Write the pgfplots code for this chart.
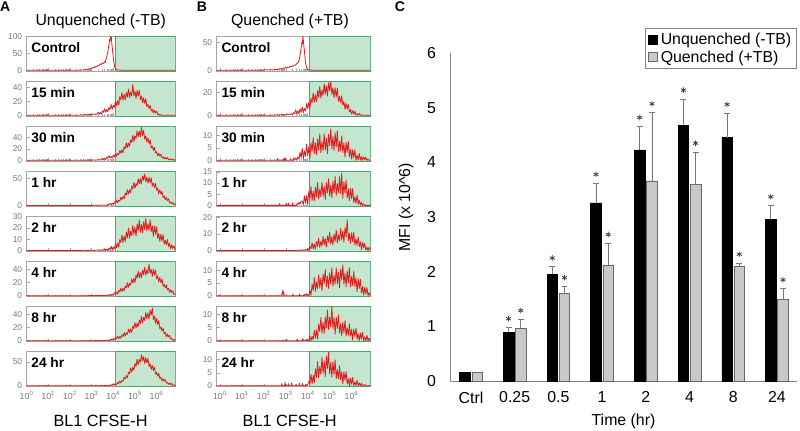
\documentclass[border=0pt]{standalone}
\usepackage{pgfplots}
\pgfplotsset{compat=1.18}
\usepackage{fontspec}
\setmainfont{Liberation Sans}
\definecolor{histred}{RGB}{225,28,28}
\definecolor{gatefill}{RGB}{196,229,206}
\definecolor{gateline}{RGB}{64,170,104}
\definecolor{framegray}{RGB}{165,165,165}
\definecolor{tickgray}{RGB}{120,120,120}
\definecolor{cgray}{RGB}{130,130,130}
\definecolor{barfill}{RGB}{200,200,200}
\definecolor{barline}{RGB}{105,105,105}
\definecolor{errgray}{RGB}{120,120,120}
\tikzset{histlabel/.style={anchor=west, inner sep=0pt, font=\bfseries\fontsize{10.3}{12}\selectfont}}
\pgfplotsset{
  /pgf/number format/assume math mode=true,
  histbase/.style={
    scale only axis, anchor=south west, height=26.25pt,
    axis line style={framegray, line width=0.5pt},
    xtick={0,1,2,3,4,5,6},
    minor xtick={0.301,0.477,0.602,0.699,0.778,0.845,0.903,0.954,1.301,1.477,1.602,1.699,1.778,1.845,1.903,1.954,2.301,2.477,2.602,2.699,2.778,2.845,2.903,2.954,3.301,3.477,3.602,3.699,3.778,3.845,3.903,3.954,4.301,4.477,4.602,4.699,4.778,4.845,4.903,4.954,5.301,5.477,5.602,5.699,5.778,5.845,5.903,5.954,6.301,6.477,6.602,6.699,6.778,6.845},
    xticklabels={},
    tick style={framegray, line width=0.4pt}, major tick length=2.2pt, minor tick length=1.3pt,
    tick align=inside, xtick pos=bottom, ytick pos=left,
    yticklabel style={font=\fontsize{6.3}{7}\selectfont, text=tickgray, inner sep=1pt, xshift=-2.2pt},
    xticklabel style={font=\fontsize{6.6}{7}\selectfont, text=tickgray, inner sep=1pt, yshift=-2.5pt},
    axis on top=false,
  },
  histA/.style={histbase, width=111.75pt, xmin=0, xmax=6.88},
  histB/.style={histbase, width=115.5pt, xmin=-0.15, xmax=6.87},
  histcurve/.style={color=histred, line width=0.6pt, line join=round, mark=none},
  bottomrow/.style={xticklabels={10\textsuperscript{0},10\textsuperscript{1},10\textsuperscript{2},10\textsuperscript{3},10\textsuperscript{4},10\textsuperscript{5},10\textsuperscript{6}}},
}
\newcommand{\gate}{\draw[gateline, fill=gatefill, line width=0.7pt] ({axis cs:\gatex,0}|-{rel axis cs:0,0}) rectangle ({rel axis cs:1,1});}
\newcommand{\hist}[7]{%
\begin{axis}[#1, ymin=#2, ymax=#3, ytick={#4}, #7]
\gate
\addplot[histcurve] coordinates {#6};
\node[histlabel] at (rel axis cs:0.03,0.68) {#5};
\end{axis}}
\begin{document}
\begin{tikzpicture}
\useasboundingbox (0,0) rectangle (600pt,322.5pt);
% ---------------- Panel A ----------------
\def\gatex{4.08}
\hist{histA, at={(20pt,269.25pt)}}{-2.5}{102}{0,50,100}{Control}{(0,0)(2.4,0)(2.5,0.5)(2.6,0.3)(2.7,1.5)(2.8,2.5)(2.9,4.5)(2.95,3.8)(3.0,7)(3.05,6)(3.1,9)(3.15,8)(3.2,12)(3.25,10.5)(3.3,15)(3.35,14)(3.4,19)(3.45,17)(3.5,22)(3.55,20)(3.6,25)(3.63,23)(3.66,32)(3.69,38)(3.72,48)(3.75,55)(3.78,70)(3.81,78)(3.83,92)(3.85,86)(3.87,100)(3.89,94)(3.91,98)(3.93,80)(3.95,70)(3.97,55)(4.0,38)(4.03,22)(4.06,12)(4.09,6)(4.12,3)(4.16,1.5)(4.2,0.8)(4.3,0.3)(4.4,0)(6.88,0)}{}
\hist{histA, at={(20pt,235.4pt)}}{-1.2}{48.5}{0,20,40}{15 min}{(0,0)(2.4,0)(2.5,0.8)(2.6,0)(2.7,1.2)(2.8,0.3)(2.9,1.5)(3.0,0.5)(3.1,2)(3.2,0.8)(3.25,2.5)(3.30,4.4)(3.35,1.6)(3.40,4.0)(3.45,1.4)(3.50,6.3)(3.55,4.2)(3.60,9.2)(3.65,4.2)(3.70,8.3)(3.75,4.9)(3.80,11.5)(3.85,8.1)(3.90,15.4)(3.95,8.6)(4.00,14.3)(4.05,11.3)(4.10,19.6)(4.15,13.6)(4.20,20.6)(4.25,14.6)(4.30,26.5)(4.35,21.8)(4.40,32.2)(4.45,21.7)(4.50,29.5)(4.55,21.8)(4.60,32.4)(4.65,25.8)(4.70,37.3)(4.75,25.2)(4.80,33.0)(4.85,27.5)(4.90,44)(4.95,27.5)(5.00,34.4)(5.05,23.9)(5.10,35.3)(5.15,27.1)(5.20,35.6)(5.25,22.2)(5.30,27.4)(5.35,17.8)(5.40,24.9)(5.45,16.9)(5.50,23.6)(5.55,12.2)(5.60,15.4)(5.65,9.5)(5.70,13.8)(5.75,6.4)(5.80,8.6)(5.85,3.1)(5.90,7.2)(5.95,3.3)(6.00,5.5)(6.05,1.0)(6.10,2.1)(6.15,0)(6.20,1.1)(6.25,0)(6.88,0)}{}
\hist{histA, at={(20pt,201.6pt)}}{-1.5}{59}{0,20,40}{30 min}{(0,0)(2.8,0)(2.9,0.5)(3.0,0)(3.1,0.8)(3.2,0.2)(3.3,1.2)(3.4,0.6)(3.45,1.8)(3.50,3.3)(3.55,1.2)(3.60,3.4)(3.65,1.2)(3.70,5.8)(3.75,3.8)(3.80,8.0)(3.85,3.7)(3.90,7.1)(3.95,4.1)(4.00,9.1)(4.05,6.2)(4.10,11.9)(4.15,6.9)(4.20,11.9)(4.25,9.7)(4.30,17.0)(4.35,12.1)(4.40,18.3)(4.45,13.0)(4.50,23.6)(4.55,19.9)(4.60,30.5)(4.65,21.9)(4.70,29.8)(4.75,23.9)(4.80,35.7)(4.85,30.5)(4.90,43.3)(4.95,32.6)(5.00,42.1)(5.05,37.7)(5.10,51.0)(5.15,40.9)(5.20,50.8)(5.25,40.2)(5.30,57)(5.35,42.8)(5.40,51.6)(5.45,36.5)(5.50,42.3)(5.55,31.5)(5.60,39.1)(5.65,28.4)(5.70,35.5)(5.75,21.5)(5.80,24.6)(5.85,17.1)(5.90,22.3)(5.95,12.7)(6.00,15.0)(6.05,7.6)(6.10,12.4)(6.15,7.1)(6.20,10.5)(6.25,4.1)(6.30,6.0)(6.35,2.3)(6.40,5.3)(6.45,2.1)(6.50,4.8)(6.55,1.0)(6.60,2.5)(6.65,0.9)(6.70,2.6)(6.75,0.3)(6.80,1.3)(6.85,0)(6.88,0)}{}
\hist{histA, at={(20pt,167.8pt)}}{-1.6}{64}{0,50}{1 hr}{(0,0)(3.0,0)(3.2,0.4)(3.3,0)(3.4,0.6)(3.5,0.2)(3.6,0.9)(3.65,0.4)(3.70,0)(3.75,2.3)(3.80,1.3)(3.85,3.9)(3.90,1.3)(3.95,4.1)(4.00,2.0)(4.05,6.3)(4.10,4.1)(4.15,9.7)(4.20,5.2)(4.25,9.9)(4.30,7.9)(4.35,15.3)(4.40,10.7)(4.45,16.8)(4.50,12.2)(4.55,23.1)(4.60,19.5)(4.65,29.5)(4.70,21.3)(4.75,29.4)(4.80,24.0)(4.85,36.3)(4.90,30.8)(4.95,43.1)(5.00,32.1)(5.05,41.3)(5.10,36.6)(5.15,50.0)(5.20,40.4)(5.25,50.3)(5.30,40.2)(5.35,55.2)(5.40,47.0)(5.45,58.7)(5.50,44.3)(5.55,53.1)(5.60,41.9)(5.65,52.6)(5.70,42.3)(5.75,52.0)(5.80,36.3)(5.85,42.1)(5.90,33.3)(5.95,41.2)(6.00,28.3)(6.05,32.7)(6.10,21.6)(6.15,29.4)(6.20,21.1)(6.25,26.3)(6.30,14.7)(6.35,17.9)(6.40,10.5)(6.45,15.1)(6.50,8.8)(6.55,12.5)(6.60,4.7)(6.65,6.6)(6.70,3.2)(6.75,5.4)(6.80,1.5)(6.85,2.4)(6.88,1)}{}
\hist{histA, at={(20pt,133.95pt)}}{-0.75}{30}{0,10,20,30}{2 hr}{(0,0)(2.5,0)(2.7,0.3)(2.8,0)(3.0,0.5)(3.1,0)(3.3,0.6)(3.4,0.1)(3.5,0.8)(3.55,0.2)(3.60,1.6)(3.65,0)(3.70,1.4)(3.75,0)(3.80,2.2)(3.85,0.7)(3.90,3.7)(3.95,0.7)(4.00,3.2)(4.05,1.6)(4.10,5.7)(4.15,2.6)(4.20,6.7)(4.25,2.9)(4.30,9.7)(4.35,6.9)(4.40,13.7)(4.45,7.1)(4.50,12.7)(4.55,8.0)(4.60,16.3)(4.65,11.2)(4.70,19.7)(4.75,10.9)(4.80,17.0)(4.85,13.0)(4.90,22.1)(4.95,14.1)(5.00,20.6)(5.05,12.7)(5.10,23.3)(5.15,17.6)(5.20,26.8)(5.25,16.1)(5.30,22.9)(5.35,15.5)(5.40,25.3)(5.45,18.4)(5.50,28.4)(5.55,17.1)(5.60,23.5)(5.65,17.7)(5.70,27.0)(5.75,16.5)(5.80,21.9)(5.85,12.5)(5.90,21.3)(5.95,14.4)(6.00,21.0)(6.05,10.6)(6.10,14.9)(6.15,8.0)(6.20,14.3)(6.25,8.3)(6.30,14.0)(6.35,5.7)(6.40,9.0)(6.45,5.0)(6.50,9.7)(6.55,3.7)(6.60,6.2)(6.65,1.4)(6.70,5.0)(6.75,1.9)(6.80,4.2)(6.85,0.4)(6.88,0.5)}{}
\hist{histA, at={(20pt,100.1pt)}}{-1.3}{52}{0,20,40}{4 hr}{(0,0)(2.8,0)(3.0,0.3)(3.1,0)(3.3,0.4)(3.4,0)(3.5,0.6)(3.6,0.2)(3.65,0.8)(3.70,0)(3.75,1.3)(3.80,0.3)(3.85,2.2)(3.90,0.4)(3.95,2.4)(4.00,1.3)(4.05,4.6)(4.10,2.1)(4.15,5.4)(4.20,2.6)(4.25,7.9)(4.30,5.6)(4.35,11.4)(4.40,6.5)(4.45,11.1)(4.50,7.7)(4.55,15.0)(4.60,11.8)(4.65,19.8)(4.70,12.8)(4.75,18.9)(4.80,16.0)(4.85,25.6)(4.90,19.2)(4.95,26.6)(5.00,19.9)(5.05,31.7)(5.10,26.7)(5.15,37.1)(5.20,26.9)(5.25,34.9)(5.30,27.6)(5.35,39.0)(5.40,32.0)(5.45,43.2)(5.50,31.2)(5.55,39.1)(5.60,33.4)(5.65,48)(5.70,33.9)(5.75,40.4)(5.80,29.4)(5.85,40.2)(5.90,31.4)(5.95,39.1)(6.00,25.8)(6.05,30.3)(6.10,21.0)(6.15,27.8)(6.20,19.4)(6.25,25.4)(6.30,14.2)(6.35,17.4)(6.40,11.8)(6.45,16.3)(6.50,8.7)(6.55,11.3)(6.60,5.0)(6.65,9.1)(6.70,4.8)(6.75,7.3)(6.80,2.0)(6.85,2.8)(6.88,2)}{}
\hist{histA, at={(20pt,66.3pt)}}{-1.3}{52}{0,20,40}{8 hr}{(0,0)(3.0,0)(3.2,0.4)(3.3,0)(3.45,0.5)(3.55,0)(3.6,0.7)(3.65,0.2)(3.70,1.4)(3.75,0)(3.80,1.1)(3.85,0.3)(3.90,2.7)(3.95,1.0)(4.00,3.2)(4.05,1.0)(4.10,4.8)(4.15,3.2)(4.20,7.2)(4.25,3.3)(4.30,6.5)(4.35,3.8)(4.40,9.0)(4.45,6.3)(4.50,12.4)(4.55,7.1)(4.60,12.1)(4.65,9.9)(4.70,17.4)(4.75,12.1)(4.80,18.0)(4.85,12.6)(4.90,22.3)(4.95,18.5)(5.00,27.6)(5.05,19.3)(5.10,26.8)(5.15,21.1)(5.20,31.7)(5.25,26.1)(5.30,37.3)(5.35,27.1)(5.40,35.4)(5.45,31.0)(5.50,42.9)(5.55,33.6)(5.60,42.5)(5.65,33.0)(5.70,46.4)(5.75,38.9)(5.80,50)(5.85,32.3)(5.90,37.3)(5.95,26.6)(6.00,34.2)(6.05,24.5)(6.10,30.7)(6.15,17.8)(6.20,21.2)(6.25,14.5)(6.30,19.3)(6.35,10.6)(6.40,12.8)(6.45,5.9)(6.50,10.3)(6.55,5.7)(6.60,8.2)(6.65,2.5)(6.70,3.7)(6.75,0.5)(6.80,2.0)(6.85,0.2)(6.88,0)}{}
\hist{histA, at={(20pt,32.5pt)}}{-1.8}{71}{0,50}{24 hr}{(0,0)(3.0,0)(3.2,0.4)(3.3,0)(3.45,0.5)(3.55,0)(3.6,0.7)(3.65,0.2)(3.70,1.3)(3.75,0.2)(3.80,1.3)(3.85,0)(3.90,2.4)(3.95,1.5)(4.00,4.3)(4.05,1.5)(4.10,4.2)(4.15,2.2)(4.20,7.0)(4.25,4.8)(4.30,10.2)(4.35,6.0)(4.40,11.2)(4.45,9.4)(4.50,18.0)(4.55,13.7)(4.60,21.4)(4.65,16.5)(4.70,28.6)(4.75,25.2)(4.80,37.0)(4.85,28.4)(4.90,38.4)(4.95,32.5)(5.00,46.3)(5.05,40.4)(5.10,55.3)(5.15,43.8)(5.20,54.9)(5.25,49.6)(5.30,64.4)(5.35,52.0)(5.40,60.5)(5.45,46.4)(5.50,58.7)(5.55,47.7)(5.60,56.8)(5.65,40.1)(5.70,45.9)(5.75,34.0)(5.80,42.5)(5.85,31.8)(5.90,38.8)(5.95,24.3)(6.00,27.7)(6.05,20.1)(6.10,25.7)(6.15,15.2)(6.20,18.2)(6.25,9.9)(6.30,15.0)(6.35,9.4)(6.40,12.9)(6.45,5.2)(6.50,7.4)(6.55,3.0)(6.60,5.9)(6.65,2.5)(6.70,4.8)(6.75,0.9)(6.80,2.1)(6.85,0.5)(6.88,0.5)}{bottomrow}
% ---------------- Panel B ----------------
\def\gatex{4.09}
\hist{histB, at={(162.5pt,269.25pt)}}{-1.5}{62}{0,50}{Control}{(-0.15,0)(2.0,0)(2.1,0.8)(2.2,0.3)(2.3,1)(2.4,0.5)(2.5,1.5)(2.6,1)(2.7,2.5)(2.75,1.8)(2.8,3.2)(2.85,2.5)(2.9,4)(2.95,3.4)(3.0,5)(3.05,4.2)(3.1,5.8)(3.15,5)(3.2,6.8)(3.25,6)(3.3,8)(3.35,7.2)(3.4,9.5)(3.45,9)(3.5,12)(3.55,13)(3.6,18)(3.63,22)(3.66,30)(3.69,38)(3.72,45)(3.74,52)(3.76,48)(3.78,61)(3.80,55)(3.82,45)(3.85,35)(3.88,22)(3.91,12)(3.94,6)(3.97,3)(4.0,1.5)(4.05,0.8)(4.1,0.3)(4.2,0)(6.87,0)}{}
\hist{histB, at={(162.5pt,235.4pt)}}{-0.75}{30}{0,20}{15 min}{(-0.15,0)(2.5,0)(2.6,0.5)(2.7,0)(2.85,0.8)(2.95,0.2)(3.05,1)(3.15,0.4)(3.25,1.5)(3.3,0.5)(3.35,2.2)(3.40,1.5)(3.45,4.8)(3.50,1.3)(3.55,4.0)(3.60,1.3)(3.65,5.6)(3.70,2.7)(3.75,7.3)(3.80,2.4)(3.85,5.9)(3.90,3.9)(3.95,10.3)(4.00,5.8)(4.05,11.1)(4.10,6.0)(4.15,14.9)(4.20,11.2)(4.25,19.6)(4.30,11.5)(4.35,18.0)(4.40,12.0)(4.45,21.6)(4.50,15.6)(4.55,25.4)(4.60,15.2)(4.65,22.3)(4.70,17.5)(4.75,27.8)(4.80,18.6)(4.85,25.9)(4.90,16.9)(4.95,28.5)(5.00,21.4)(5.05,29.5)(5.10,18.3)(5.15,24.2)(5.20,15.6)(5.25,24.1)(5.30,16.1)(5.35,23.8)(5.40,12.3)(5.45,16.6)(5.50,10.9)(5.55,17.1)(5.60,8.7)(5.65,12.2)(5.70,5.1)(5.75,10.7)(5.80,5.7)(5.85,9.4)(5.90,2.9)(5.95,5.0)(6.00,1.1)(6.05,4.2)(6.10,1.1)(6.15,3.6)(6.20,0.1)(6.25,1.4)(6.30,0.1)(6.35,1.6)(6.40,0)(6.45,0.6)(6.50,0)(6.87,0)}{}
\hist{histB, at={(162.5pt,201.6pt)}}{-0.35}{13.8}{0,5,10}{30 min}{(-0.15,0)(2.6,0)(2.62,0.8)(2.64,0)(2.9,0)(2.92,0.9)(2.94,0)(2.97,1.0)(2.99,0)(3.2,0)(3.22,0.7)(3.24,0)(3.35,0)(3.37,1.1)(3.39,0)(3.45,0.9)(3.5,0.2)(3.55,1.4)(3.6,0.5)(3.65,3.3)(3.70,0.9)(3.75,4.9)(3.80,0.5)(3.85,3.8)(3.90,1.6)(3.95,6.5)(4.00,1.8)(4.05,5.5)(4.10,0.9)(4.15,7.1)(4.20,3.7)(4.25,9.1)(4.30,2.7)(4.35,7.0)(4.40,2.3)(4.45,8.6)(4.50,4.1)(4.55,10.6)(4.60,3.1)(4.65,7.6)(4.70,4.0)(4.75,10.7)(4.80,4.2)(4.85,8.9)(4.90,2.7)(4.95,10.5)(5.00,6.0)(5.05,12.8)(5.10,4.6)(5.15,9.6)(5.20,3.9)(5.25,11.1)(5.30,5.4)(5.35,12.0)(5.40,3.6)(5.45,7.8)(5.50,3.8)(5.55,9.8)(5.60,3.2)(5.65,7.0)(5.70,1.3)(5.75,7.2)(5.80,3.2)(5.85,7.7)(5.90,1.4)(5.95,4.4)(6.00,0.5)(6.05,4.3)(6.10,1.0)(6.15,4.3)(6.20,0)(6.25,2.1)(6.30,0.2)(6.35,2.8)(6.40,0)(6.45,1.5)(6.50,0)(6.55,1.4)(6.60,0.2)(6.65,1.3)(6.70,0)(6.75,0.5)(6.80,0)(6.87,0)}{}
\hist{histB, at={(162.5pt,167.8pt)}}{-0.4}{15.3}{0,5,10,15}{1 hr}{(-0.15,0)(2.7,0)(2.72,0.8)(2.74,0)(3.0,0)(3.02,1.0)(3.04,0)(3.1,0)(3.12,0.9)(3.14,0)(3.3,0)(3.32,1.2)(3.34,0)(3.5,0)(3.52,1.0)(3.55,0.2)(3.6,1.4)(3.65,0.5)(3.7,2.0)(3.75,1.8)(3.80,0.4)(3.85,4.3)(3.90,0.9)(3.95,4.3)(4.00,0.4)(4.05,6.2)(4.10,3.1)(4.15,8.5)(4.20,2.2)(4.25,6.4)(4.30,2.0)(4.35,8.2)(4.40,3.8)(4.45,10.2)(4.50,2.9)(4.55,7.4)(4.60,3.9)(4.65,10.4)(4.70,4.0)(4.75,8.7)(4.80,2.6)(4.85,10.2)(4.90,5.6)(4.95,12.0)(5.00,4.2)(5.05,9.0)(5.10,3.5)(5.15,10.8)(5.20,5.6)(5.25,13.0)(5.30,4.5)(5.35,9.8)(5.40,5.7)(5.45,12.9)(5.50,5.3)(5.55,14.5)(5.60,3.1)(5.65,10.6)(5.70,5.5)(5.75,11.4)(5.80,3.3)(5.85,7.4)(5.90,2.1)(5.95,7.7)(6.00,3.0)(6.05,7.6)(6.10,1.2)(6.15,3.9)(6.20,1.0)(6.25,4.6)(6.30,0.5)(6.35,2.4)(6.40,0)(6.45,1.5)(6.50,0)(6.55,0.6)(6.60,0)(6.87,0)}{}
\hist{histB, at={(162.5pt,133.95pt)}}{-0.5}{20.5}{0,10,20}{2 hr}{(-0.15,0)(3.5,0)(3.55,0.4)(3.6,0)(3.75,0.5)(3.8,0)(3.9,0.6)(3.95,0.2)(4.00,1.2)(4.05,0)(4.10,2.4)(4.15,1.0)(4.20,4.7)(4.25,0.9)(4.30,4.0)(4.35,0.9)(4.40,5.6)(4.45,2.4)(4.50,7.4)(4.55,1.9)(4.60,5.6)(4.65,2.8)(4.70,8.4)(4.75,3.2)(4.80,7.3)(4.85,2.1)(4.90,8.8)(4.95,5.0)(5.00,10.9)(5.05,3.8)(5.10,8.4)(5.15,3.4)(5.20,10.0)(5.25,5.4)(5.30,12.3)(5.35,4.5)(5.40,9.4)(5.45,5.9)(5.50,13.2)(5.55,6.4)(5.60,11.8)(5.65,5.1)(5.70,13.8)(5.75,8.3)(5.80,18.5)(5.85,5.9)(5.90,10.4)(5.95,4.3)(6.00,10.7)(6.05,5.3)(6.10,11.1)(6.15,3.3)(6.20,6.9)(6.25,3.2)(6.30,8.1)(6.35,2.4)(6.40,5.3)(6.45,0.6)(6.50,4.8)(6.55,1.6)(6.60,4.4)(6.65,0.3)(6.70,2.1)(6.75,0)(6.80,2.0)(6.85,0.3)(6.87,0.3)}{}
\hist{histB, at={(162.5pt,100.1pt)}}{-0.35}{13.6}{0,5,10}{4 hr}{(-0.15,0)(2.8,0)(2.84,0.8)(2.86,2.2)(2.88,0.5)(2.9,1.5)(2.93,0)(3.3,0)(3.32,0.6)(3.35,0)(3.6,0)(3.62,0.7)(3.65,0)(3.8,0)(3.85,0.6)(3.9,0)(3.95,0.8)(4.0,0.2)(4.05,0)(4.10,2.2)(4.15,0.2)(4.20,4.6)(4.25,2.0)(4.30,7.2)(4.35,1.7)(4.40,5.5)(4.45,2.7)(4.50,8.2)(4.55,3.1)(4.60,7.1)(4.65,2.0)(4.70,8.6)(4.75,4.8)(4.80,10.4)(4.85,3.5)(4.90,7.7)(4.95,2.9)(5.00,9.1)(5.05,4.6)(5.10,11.0)(5.15,3.7)(5.20,8.1)(5.25,4.6)(5.30,11.1)(5.35,4.7)(5.40,9.2)(5.45,3.2)(5.50,10.6)(5.55,6.2)(5.60,12.3)(5.65,4.6)(5.70,9.0)(5.75,3.6)(5.80,9.9)(5.85,5.0)(5.90,11.1)(5.95,3.5)(6.00,7.6)(6.05,4.0)(6.10,9.8)(6.15,3.6)(6.20,7.1)(6.25,1.5)(6.30,6.8)(6.35,2.9)(6.40,6.5)(6.45,1.1)(6.50,3.6)(6.55,0.2)(6.60,3.4)(6.65,0.7)(6.70,3.2)(6.75,0)(6.80,1.2)(6.85,0)(6.87,0)}{}
\hist{histB, at={(162.5pt,66.3pt)}}{-0.33}{13.1}{0,5,10}{8 hr}{(-0.15,0)(3.0,0)(3.02,0.5)(3.05,0)(3.5,0)(3.52,0.6)(3.55,0)(3.75,0)(3.78,0.9)(3.8,0)(3.9,0)(3.93,0.5)(3.96,0)(4.0,0.4)(4.05,0)(4.10,1.9)(4.15,0)(4.20,1.7)(4.25,0.4)(4.30,4.0)(4.35,1.0)(4.40,4.2)(4.45,0.6)(4.50,6.3)(4.55,3.5)(4.60,8.9)(4.65,2.9)(4.70,7.1)(4.75,2.8)(4.80,9.2)(4.85,4.9)(4.90,11.8)(4.95,4.3)(5.00,9.0)(5.05,5.3)(5.10,13.0)(5.15,4.7)(5.20,8.8)(5.25,2.6)(5.30,9.1)(5.35,4.7)(5.40,9.8)(5.45,2.9)(5.50,6.5)(5.55,1.9)(5.60,7.1)(5.65,3.0)(5.70,7.8)(5.75,1.8)(5.80,5.0)(5.85,2.1)(5.90,6.4)(5.95,1.7)(6.00,4.4)(6.05,0.3)(6.10,4.5)(6.15,1.7)(6.20,4.8)(6.25,0.6)(6.30,2.7)(6.35,0)(6.40,2.9)(6.45,0.6)(6.50,3.2)(6.55,0)(6.60,1.5)(6.65,0)(6.70,2.0)(6.75,0)(6.80,1.0)(6.85,0)(6.87,0)}{}
\hist{histB, at={(162.5pt,32.5pt)}}{-0.33}{13.1}{0,5,10}{24 hr}{(-0.15,0)(2.8,0)(2.82,0.9)(2.84,0)(2.95,0)(2.97,1.3)(2.99,0)(3.1,0)(3.12,0.8)(3.14,0)(3.25,0)(3.27,1.2)(3.29,0)(3.45,0)(3.47,0.7)(3.49,0)(3.6,0)(3.62,1.1)(3.64,0)(3.75,0)(3.77,0.9)(3.79,0)(3.9,0)(3.92,0.6)(3.95,0)(4.0,0.5)(4.05,1.8)(4.10,0.7)(4.15,4.4)(4.20,0.8)(4.25,4.1)(4.30,1.1)(4.35,6.5)(4.40,3.2)(4.45,9.3)(4.50,3.0)(4.55,7.4)(4.60,4.4)(4.65,11.0)(4.70,4.8)(4.75,9.6)(4.80,3.5)(4.85,11.3)(4.90,6.7)(4.95,12.9)(5.00,4.7)(5.05,8.9)(5.10,3.4)(5.15,9.3)(5.20,4.3)(5.25,9.9)(5.30,2.7)(5.35,6.2)(5.40,2.8)(5.45,7.7)(5.50,2.3)(5.55,5.4)(5.60,0.7)(5.65,5.4)(5.70,2.1)(5.75,5.4)(5.80,0.7)(5.85,2.8)(5.90,0)(5.95,2.9)(6.00,0.6)(6.05,3.2)(6.10,0)(6.15,1.5)(6.20,0.1)(6.25,2.1)(6.30,0)(6.35,1.1)(6.40,0)(6.45,1.0)(6.50,0)(6.60,0.5)(6.65,0)(6.87,0)}{bottomrow}
% ---------------- Panel C ----------------
\begin{axis}[
  at={(337.5pt,36.75pt)}, anchor=south west, scale only axis,
  width=260.25pt, height=246pt,
  xmin=-0.48, xmax=7.46, ymin=0, ymax=6,
  axis x line*=bottom, axis y line*=left,
  axis line style={-, draw=cgray, line width=0.6pt},
  xtick={0,1,2,3,4,5,6,7},
  xticklabels={Ctrl,0.25,0.5,1,2,4,8,24},
  ytick={0,1,2,3,4,5,6},
  major tick length=0pt, tick style={draw=none},
  ticklabel style={font=\fontsize{11.9}{14}\selectfont},
  xticklabel style={yshift=-4.5pt},
  yticklabel style={xshift=-7pt},
  xlabel={Time (hr)}, ylabel={MFI (x 10\textasciicircum 6)},
  label style={font=\fontsize{11.9}{14}\selectfont},
  xlabel style={at={(axis description cs:0.5,0)}, anchor=center, yshift=-30pt},
  ylabel style={at={(axis description cs:-0.127,0.53)}, anchor=center},
  legend style={at={(1,1)}, anchor=north east, yshift=18.75pt, draw=cgray, line width=0.6pt,
    font=\fontsize{11.9}{13}\selectfont, inner xsep=2pt, inner ysep=1.5pt, row sep=-1pt,
    legend cell align=left},
  clip=false,
]
\addplot[ybar, bar width=0.24, bar shift=0pt, fill=black, draw=black, forget plot] coordinates {(-0.14,0.165)};
\addplot[ybar, bar width=0.24, bar shift=0pt, fill=barfill, draw=barline, line width=0.5pt, forget plot] coordinates {(0.14,0.165)};
\addplot[ybar, bar width=0.24, bar shift=0pt, fill=black, draw=black, forget plot,
  error bars/.cd, y dir=plus, y explicit,
  error bar style={errgray, line width=0.6pt},
  error mark options={errgray, line width=0.6pt, mark size=2.2pt, rotate=90}]
  coordinates {(0.86,0.89) +- (0,0.09) (1.86,1.95) +- (0,0.14) (2.86,3.26) +- (0,0.36) (3.86,4.23) +- (0,0.43) (4.86,4.68) +- (0,0.48) (5.86,4.45) +- (0,0.45) (6.86,2.96) +- (0,0.25)};
\addplot[ybar, bar width=0.24, bar shift=0pt, fill=barfill, draw=barline, line width=0.5pt, forget plot,
  error bars/.cd, y dir=plus, y explicit,
  error bar style={errgray, line width=0.6pt},
  error mark options={errgray, line width=0.6pt, mark size=2.2pt, rotate=90}]
  coordinates {(1.14,0.97) +- (0,0.16) (2.14,1.60) +- (0,0.13) (3.14,2.12) +- (0,0.40) (4.14,3.66) +- (0,1.25) (5.14,3.59) +- (0,0.60) (6.14,2.10) +- (0,0.06) (7.14,1.49) +- (0,0.20)};
\addplot[only marks, mark=asterisk, mark size=2.1pt, mark options={line width=0.6pt, draw=black!75}, forget plot]
  coordinates {(0.86,1.14) (1.86,2.25) (2.86,3.78) (3.86,4.82) (4.86,5.32) (5.86,5.06) (6.86,3.37)
               (1.14,1.29) (2.14,1.89) (3.14,2.68) (4.14,5.07) (5.14,4.35) (6.14,2.32) (7.14,1.85)};
\addlegendimage{legend image code/.code={\draw[fill=black, draw=black] (0pt,-3.4pt) rectangle (6.8pt,3.4pt);}}
\addlegendentry{Unquenched (-TB)}
\addlegendimage{legend image code/.code={\draw[fill=barfill, draw=barline] (0pt,-3.4pt) rectangle (6.8pt,3.4pt);}}
\addlegendentry{Quenched (+TB)}
\end{axis}
\node[font=\fontsize{11.9}{14}\selectfont] at (75.6pt,306.75pt) {Unquenched (-TB)};
\node[font=\fontsize{11.9}{14}\selectfont] at (217.5pt,306.75pt) {Quenched (+TB)};
\node[font=\fontsize{12.2}{14}\selectfont] at (75.4pt,7pt) {BL1 CFSE-H};
\node[font=\fontsize{12.2}{14}\selectfont] at (217.3pt,7pt) {BL1 CFSE-H};
\node[font=\bfseries\fontsize{10.5}{12}\selectfont, inner sep=0pt] at (3.8pt,317.5pt) {A};
\node[font=\bfseries\fontsize{10.5}{12}\selectfont, inner sep=0pt] at (151.5pt,317.5pt) {B};
\node[font=\bfseries\fontsize{10.5}{12}\selectfont, inner sep=0pt] at (300pt,317.5pt) {C};
\end{tikzpicture}
\end{document}
